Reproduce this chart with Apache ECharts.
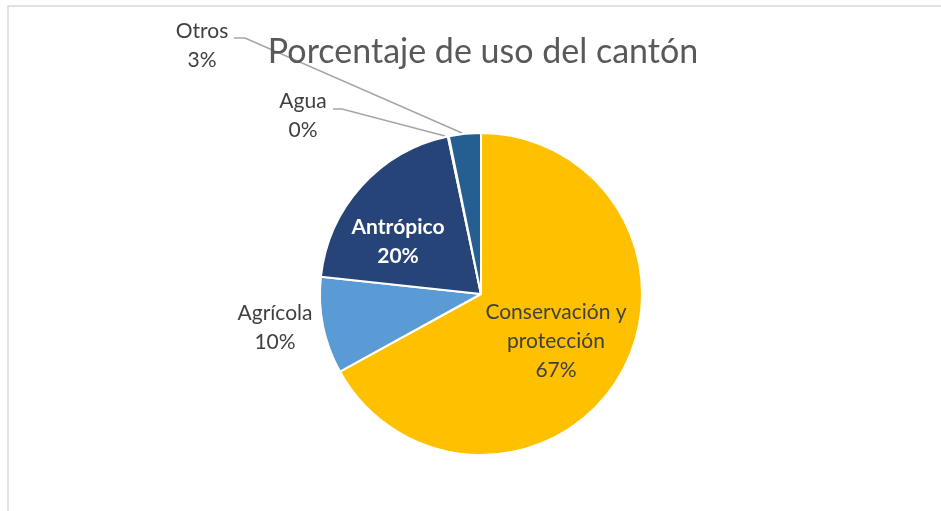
<!DOCTYPE html>
<html>
<head>
<meta charset="utf-8">
<script src="https://cdn.jsdelivr.net/npm/echarts@6/dist/echarts.min.js"></script>
<style>html,body{margin:0;padding:0;background:#fff;}#c{width:941px;height:511px;}</style>
</head>
<body>
<div id="c"></div>
<script>
const categories = ['Conservación y protección', 'Agrícola', 'Antrópico', 'Agua', 'Otros'];
const values = [67.0, 9.7, 20.0, 0.1, 3.2];
const colors = ['#FFC000', '#5B9BD5', '#264478', '#9E480E', '#255E91'];
const chartTitle = 'Porcentaje de uso del cantón';

const labelPos = [
  {x: 556, y: 341},
  {x: 275, y: 328},
  {x: 398, y: 242},
  {x: 303, y: 116},
  {x: 202, y: 46}
];
const linePts = [
  null, null, null,
  [[333, 109], [342, 109], [445, 136]],
  [[234, 38], [245, 38], [462, 133]]
];

const baseLabel = {fontFamily: 'Lato', fontSize: 21, lineHeight: 29, color: '#404040'};
const data = categories.map((name, i) => {
  const item = {name, value: values[i], itemStyle: {color: colors[i]}};
  if (i === 0) {
    item.label = Object.assign({}, baseLabel, {position: 'inside'});
  } else if (i === 2) {
    item.label = Object.assign({}, baseLabel, {position: 'inside', color: '#ffffff', fontWeight: 'bold', fontSize: 21});
  } else {
    item.label = Object.assign({}, baseLabel, {position: 'outside'});
  }
  item.labelLine = {show: i === 3 || i === 4};
  return item;
});

const chart = echarts.init(document.getElementById('c'), null, {renderer: 'canvas'});
chart.setOption({
  animation: false,
  backgroundColor: '#ffffff',
  title: {
    text: chartTitle,
    left: 478,
    textAlign: 'center',
    top: 30,
    textStyle: {fontFamily: 'Lato', fontSize: 34, fontWeight: 'normal', color: '#595959'}
  },
  graphic: [{
    type: 'rect',
    shape: {x: 8, y: 6, width: 1000, height: 600},
    style: {fill: 'none', stroke: '#D9D9D9', lineWidth: 1.5},
    silent: true
  }],
  series: [{
    type: 'pie',
    center: [481, 294],
    radius: 161,
    startAngle: 90,
    clockwise: true,
    avoidLabelOverlap: false,
    itemStyle: {borderColor: '#ffffff', borderWidth: 2},
    label: {
      formatter: p => p.name.replace(' y ', ' y\n') + '\n' + Math.round(p.percent) + '%'
    },
    labelLine: {lineStyle: {color: '#A6A6A6', width: 1.5}},
    labelLayout: function (params) {
      const i = params.dataIndex;
      const r = {x: labelPos[i].x, y: labelPos[i].y, align: 'center', verticalAlign: 'middle'};
      if (linePts[i]) r.labelLinePoints = linePts[i];
      return r;
    },
    data: data
  }]
});
</script>
</body>
</html>
